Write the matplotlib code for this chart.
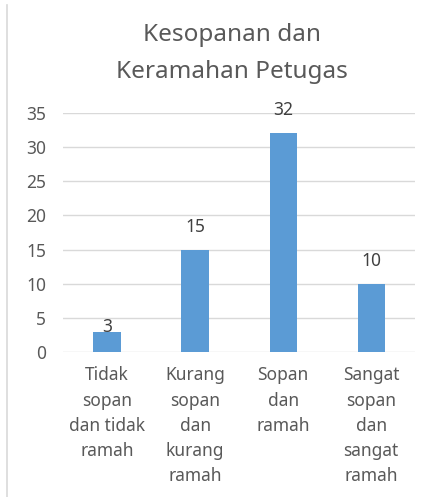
import matplotlib.pyplot as plt
from matplotlib.lines import Line2D

plt.rcParams['font.family'] = ['Noto Sans', 'DejaVu Sans']

# data
categories = [
    "Tidak\nsopan\ndan tidak\nramah",
    "Kurang\nsopan\ndan\nkurang\nramah",
    "Sopan\ndan\nramah",
    "Sangat\nsopan\ndan\nsangat\nramah",
]
values = [3, 15, 32, 10]
yticks = [0, 5, 10, 15, 20, 25, 30, 35]
title = "Kesopanan dan\nKeramahan Petugas"

bar_color = "#5B9BD5"
grid_color = "#D9D9D9"
text_color = "#595959"

fig = plt.figure(figsize=(4.38, 4.97), dpi=100)
ax = fig.add_axes([0.144, 0.291, 0.804, 0.482])

x = range(len(values))
bars = ax.bar(x, values, width=0.31, color=bar_color, zorder=3)

for b, v in zip(bars, values):
    off = 14 if v > 5 else -4
    ax.annotate(str(v), (b.get_x() + b.get_width() / 2, v),
                xytext=(0, off), textcoords="offset pixels",
                ha="center", va="bottom", fontsize=12.5, color="#404040")

ax.set_xlim(-0.5, len(values) - 0.5)
ax.set_ylim(0, 35)
ax.set_yticks(yticks)
ax.yaxis.grid(True, color=grid_color, linewidth=1, zorder=0)
ax.set_xticks(list(x))
ax.set_xticklabels(categories, fontsize=12.5, color=text_color, linespacing=1.52, va="top")
ax.tick_params(axis="y", length=0, pad=12, labelsize=12.5, labelcolor=text_color)
ax.tick_params(axis="x", length=0, pad=10)
for s in ax.spines.values():
    s.set_visible(False)

fig.text(0.53, 0.953, title, ha="center", va="top", fontsize=17.5,
         color=text_color, linespacing=1.7)

# left frame edge of the original chart box
fig.add_artist(Line2D([0.016, 0.016], [0.0, 0.99], color=grid_color, linewidth=1.2))

fig.savefig("out.png", dpi=100)
